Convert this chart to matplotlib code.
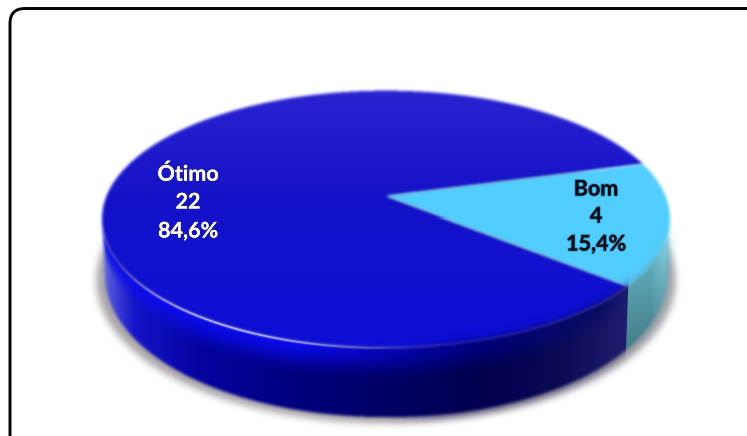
import numpy as np
import matplotlib
matplotlib.use("Agg")
import matplotlib.pyplot as plt
import matplotlib.patheffects as pe
from matplotlib.path import Path
from matplotlib.patches import FancyBboxPatch

# Survey responses
categories = ["Ótimo", "Bom"]
counts = [22, 4]
percent_labels = ["84,6%", "15,4%"]

W, H = 747, 436
fig = plt.figure(figsize=(W / 100, H / 100), dpi=100, facecolor="white")
ax = fig.add_axes([0, 0, 1, 1])
ax.set_xlim(0, W)
ax.set_ylim(H, 0)
ax.axis("off")

# Perspective projection of the unit disc onto the page
CX, CY, BX, AY, K = 386.0, 197.0, 279.5, 124.0, 0.177


def top_xy(theta):
    u, v = np.cos(theta), np.sin(theta)
    w = 1 + K * v
    return CX + BX * u / w, CY - AY * v / w


def base_xy(theta):
    x, y = top_xy(theta)
    v = np.sin(theta)
    return CX + (x - CX) * 0.99, y + 51.5 - 18 * v


def blur(a, r):
    # repeated box filter gives a soft gaussian-like falloff
    k = np.ones(2 * r + 1) / (2 * r + 1)
    for _ in range(3):
        a = np.apply_along_axis(lambda m: np.convolve(m, k, mode="same"), 0, a)
        a = np.apply_along_axis(lambda m: np.convolve(m, k, mode="same"), 1, a)
    return a


SS = 2
gx = (np.arange(W * SS) + 0.5) / SS
gy = (np.arange(H * SS) + 0.5) / SS
GX, GY = np.meshgrid(gx, gy)
grid_points = np.column_stack([GX.ravel(), GY.ravel()])


def mask_of(xs, ys):
    verts = np.column_stack([xs, ys])
    m = Path(verts, closed=False).contains_points(grid_points).reshape(GX.shape).astype(float)
    return m.reshape(H, SS, W, SS).mean(axis=(1, 3))


def put(rgb, alpha, z):
    rgba = np.dstack([np.clip(rgb, 0, 255) / 255.0, np.clip(alpha, 0, 1)])
    ax.imshow(rgba, extent=(0, W, H, 0), interpolation="nearest", zorder=z, aspect="auto")


def smooth(e0, e1, v):
    s = np.clip((v - e0) / (e1 - e0), 0, 1)
    return s * s * (3 - 2 * s)


px, py = np.meshgrid(np.arange(W) + 0.5, np.arange(H) + 0.5)

# Slice angles come straight from the counts, the small slice straddling the right side
START = np.radians(15.6)
sweep_bom = 2 * np.pi * counts[1] / sum(counts)
bom_a0, bom_a1 = START - sweep_bom, START
otimo_a0, otimo_a1 = START, START - sweep_bom + 2 * np.pi

full = np.linspace(0, 2 * np.pi, 721)

# Soft drop shadow under the disc
sx, sy = base_xy(full)
shadow_x = CX + (sx - CX) * 1.03
shadow_y = sy + 6
shadow = blur(mask_of(shadow_x, shadow_y), 3)
put(np.full((H, W, 3), [160.0, 155.0, 160.0]), shadow * 0.9, 1)

# Cylinder wall, running between the two points where the disc outline turns vertical
tangent = np.arcsin(K)
front = np.linspace(np.pi + tangent, 2 * np.pi - tangent, 721)
tx, ty = top_xy(front)
bx, by = base_xy(front)
wall_x = np.r_[tx, bx[::-1]]
wall_y = np.r_[ty, by[::-1]]
wall_mask = blur(mask_of(wall_x, wall_y), 1)

order = np.argsort(tx)
top_edge = np.interp(px, tx[order], ty[order])
order_b = np.argsort(bx)
bottom_edge = np.interp(px, bx[order_b], by[order_b])
t = np.clip((py - top_edge) / np.maximum(bottom_edge - top_edge, 1), 0, 1)

# Blue wall: a bright band below the rim fading into the darker lower part
band_x = [100, 300, 373, 480, 600, 627]
band = np.dstack([
    np.interp(px, band_x, [12, 10, 5, 0, 10, 25]),
    np.interp(px, band_x, [12, 10, 5, 0, 10, 25]),
    np.interp(px, band_x, [235, 235, 190, 125, 100, 110]),
])
low_x = [100, 112, 135, 200, 300, 373, 480, 560, 627]
low = np.dstack([
    np.interp(px, low_x, [115, 70, 20, 3, 0, 0, 0, 10, 32]),
    np.interp(px, low_x, [125, 75, 20, 3, 0, 0, 0, 10, 30]),
    np.interp(px, low_x, [225, 215, 200, 160, 125, 105, 78, 85, 110]),
])
mix = smooth(0.0, 0.5, t)[..., None]
wall_rgb = band * (1 - mix) + low * mix

# Teal wall of the small slice
edge_x = top_xy(bom_a0)[0]
teal_share = np.clip((px - edge_x) + 0.5 + (py - top_xy(bom_a0)[1]) * 0.035, 0, 1)
teal = np.dstack([
    np.interp(px, [625, 650, 671], [78, 82, 125]),
    np.interp(px, [625, 650, 671], [140, 150, 195]),
    np.interp(px, [625, 650, 671], [150, 165, 210]),
]) * (1.12 - 0.22 * t)[..., None]
wall_rgb = wall_rgb * (1 - teal_share[..., None]) + teal * teal_share[..., None]
put(wall_rgb, wall_mask, 2)

# Top face, large slice
a = np.linspace(otimo_a0, otimo_a1, 721)
x, y = top_xy(a)
m = blur(mask_of(np.r_[CX, x], np.r_[CY, y]), 1)
blue = np.dstack([
    np.interp(py, [90, 200, 350], [42, 20, 12]),
    np.interp(py, [90, 200, 350], [34, 18, 14]),
    np.interp(py, [90, 200, 350], [208, 200, 215]),
])
put(blue, m, 3)

# Top face, small slice
a = np.linspace(bom_a0, bom_a1, 121)
x, y = top_xy(a)
m = blur(mask_of(np.r_[CX, x], np.r_[CY, y]), 1)
put(np.full((H, W, 3), [82.0, 205.0, 255.0]), m, 3)

# Soft bevel where the top face rolls over into the wall on the right
bevel = blur(wall_mask, 4) * smooth(360, 470, px)
put(wall_rgb, bevel, 4)

# Bright rim along the lower-left of the top edge
rim = np.linspace(np.radians(207), np.radians(275), 160)
rx, ry = top_xy(rim)
strength = np.sin(np.linspace(0, np.pi, rim.size)) ** 1.5
for i in range(rim.size - 1):
    ax.plot(rx[i:i + 2], ry[i:i + 2] + 0.5, color="#c8d0ff", lw=3.0, alpha=float(strength[i]) * 0.18,
            solid_capstyle="butt", zorder=5)
    ax.plot(rx[i:i + 2], ry[i:i + 2] + 0.5, color="white", lw=1.2, alpha=float(strength[i]) * 0.6,
            solid_capstyle="butt", zorder=5)

# Rounded frame; its right and bottom sides run past the canvas
frame = FancyBboxPatch((10, 8.5), 800, 500, boxstyle="round,pad=0,rounding_size=15",
                       fc="none", ec="black", lw=2.1, zorder=6)
ax.add_patch(frame)

# Data labels: name, count and share on three lines
label_style = [
    ("white", "#30285a", 188, (174, 202, 231)),
    ("#06101c", "#2a6e96", 596, (189, 216, 244)),
]
for name, count, pct, (color, glow, lx, rows) in zip(categories, counts, percent_labels, label_style):
    for text, ly in zip((name, str(count), pct), rows):
        ax.text(lx, ly, text, ha="center", va="center", color=color, fontsize=15.5,
                family="Lato", fontweight="bold", zorder=7,
                path_effects=[
                    pe.SimpleLineShadow(offset=(1, -1), shadow_color=glow, alpha=0.5),
                    pe.withStroke(linewidth=1.6, foreground=glow, alpha=0.45),
                    pe.Normal(),
                ])

fig.savefig("out.png", dpi=100, facecolor="white")
